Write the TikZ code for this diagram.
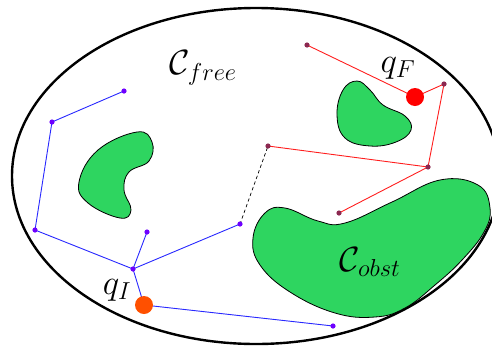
\RequirePackage{fix-cm}
\documentclass[tikz,border=0pt]{standalone}
\usepackage{tikz}

\definecolor{obstgreen}{RGB}{46,213,96}
\definecolor{treeblue}{RGB}{40,40,255}
\definecolor{dotblue}{RGB}{110,0,255}
\definecolor{treered}{RGB}{255,30,30}
\definecolor{dotred}{RGB}{140,40,80}
\definecolor{startcol}{RGB}{255,80,0}
\definecolor{goalcol}{RGB}{255,0,0}

\begin{document}
\begin{tikzpicture}[x=1pt,y=-1pt,line cap=round,line join=round,
  blueedge/.style={treeblue,line width=0.9pt},
  rededge/.style={treered,line width=0.9pt},
  obst/.style={fill=obstgreen,draw=black,line width=0.8pt},
  lbl/.style={font=\fontsize{35}{37}\selectfont,inner sep=0pt}]
\useasboundingbox (0,0) rectangle (492,346);
\begin{scope}
\clip (0,0) rectangle (492,346);
% configuration space
\draw[line width=2.4pt] (256,176) ellipse [x radius=244,y radius=168];
\end{scope}
% obstacles
\draw[obst] plot[smooth cycle,tension=0.7] coordinates {(137,132) (152,142) (149,161) (129,172) (124,190) (131,210) (120,218) (88,203) (79,182) (98,150)};
\draw[obst] plot[smooth cycle,tension=0.7] coordinates {(357,81) (370,90) (383,105) (405,116) (411,130) (396,142) (370,146) (345,138) (337,115) (343,90)};
\draw[obst] plot[smooth cycle,tension=0.7] coordinates {(253,238) (265,213) (285,208) (318,221) (345,223) (392,202) (440,180) (478,185) (490,208) (484,232) (462,260) (435,285) (405,308) (375,317) (335,313) (290,292) (260,265)};
% tree from q_I
\coordinate (b1) at (124,91);
\coordinate (b2) at (52,122);
\coordinate (b3) at (35,230);
\coordinate (b4) at (133,269);
\coordinate (b5) at (147,232);
\coordinate (b6) at (240,224);
\coordinate (qI) at (144,305);
\coordinate (b7) at (333,326);
% tree from q_F
\coordinate (r0) at (307,45);
\coordinate (qF) at (415,97);
\coordinate (r2) at (444,84);
\coordinate (r3) at (428,167);
\coordinate (r1) at (268,146);
\coordinate (r4) at (339,213);
\draw[blueedge] (b1) -- (b2);
\draw[blueedge] (b2) -- (b3);
\draw[blueedge] (b3) -- (b4);
\draw[blueedge] (b4) -- (b5);
\draw[blueedge] (b4) -- (b6);
\draw[blueedge] (b4) -- (qI);
\draw[blueedge] (qI) -- (b7);
\draw[rededge] (r0) -- (qF);
\draw[rededge] (qF) -- (r2);
\draw[rededge] (r2) -- (r3);
\draw[rededge] (r3) -- (r1);
\draw[rededge] (r3) -- (r4);
\draw[dashed,line width=0.7pt] (b6) -- (r1);
\foreach \p in {b1,b2,b3,b4,b5,b6,b7}
  \fill[dotblue] (\p) circle (2.6pt);
\foreach \p in {r0,r1,r2,r3,r4}
  \fill[dotred] (\p) circle (2.6pt);
\fill[startcol] (qI) circle (9pt);
\fill[goalcol] (qF) circle (9pt);
% labels
\node[lbl] (free) at (203,68) {$\mathcal{C}_{free}$};
\node[lbl] (obstlbl) at (370,262) {$\mathcal{C}_{obst}$};
\node[lbl] (qIlbl) at (117,290) {$q_I$};
\node[lbl] (qFlbl) at (398,68) {$q_F$};
\end{tikzpicture}
\end{document}
